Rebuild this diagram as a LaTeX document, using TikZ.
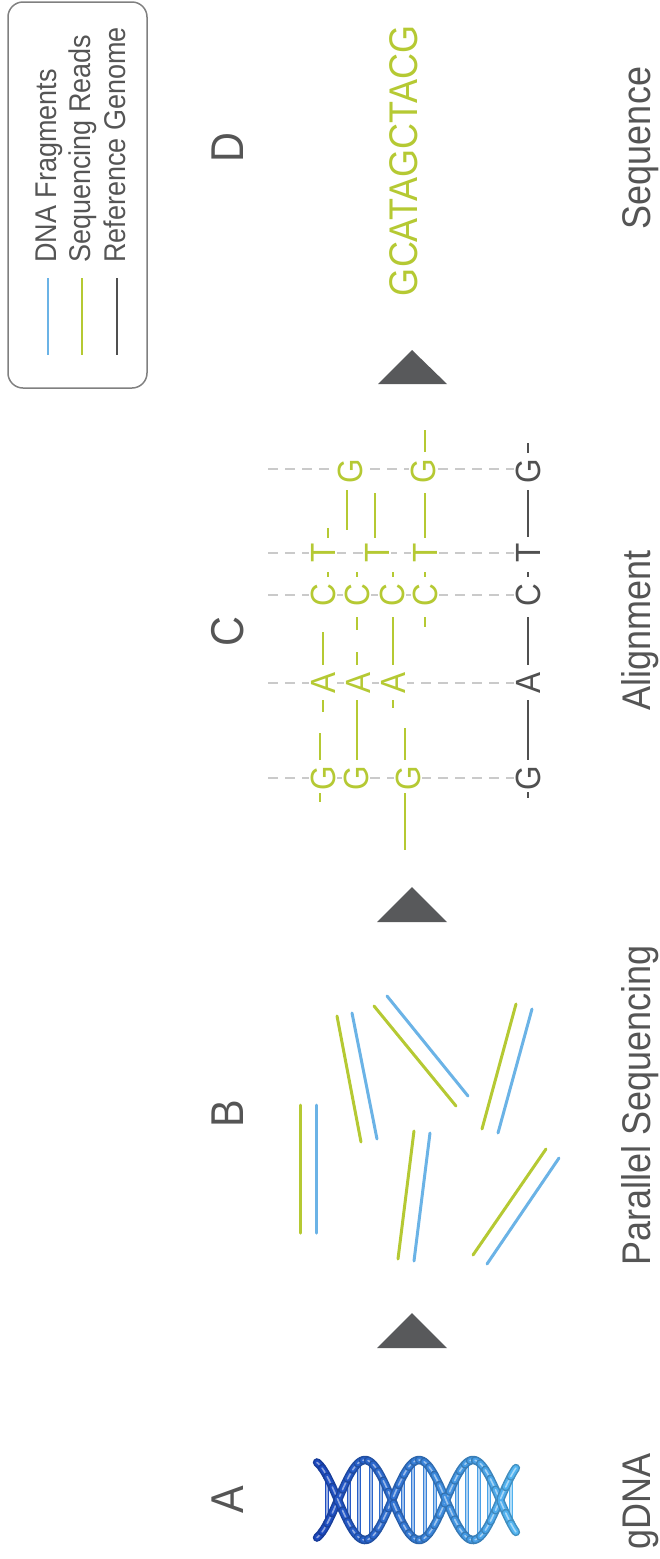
\documentclass[tikz,border=0pt]{standalone}
\usepackage{fontspec}
\setmainfont{Liberation Sans}[FakeStretch=0.9]
\definecolor{seqgreen}{HTML}{B5C933}
\definecolor{fragblue}{HTML}{6BB3E6}
\definecolor{labelgrey}{HTML}{555555}
\definecolor{refgrey}{HTML}{505050}
\definecolor{trigrey}{HTML}{58595B}
\definecolor{guidegrey}{HTML}{CACACA}
\definecolor{framegrey}{HTML}{808080}
\definecolor{dnaDark}{HTML}{1C48BE}
\definecolor{dnaLight}{HTML}{52B4F0}
\begin{document}
\begin{tikzpicture}[x=1pt,y=-1pt,
  steplabel/.style={rotate=90, text=labelgrey, font=\fontsize{46}{46}\selectfont, anchor=base, inner sep=0pt},
  caption/.style={rotate=90, text=labelgrey, font=\fontsize{40}{40}\selectfont, anchor=base, inner sep=0pt},
  legendtext/.style={rotate=90, text=labelgrey, font=\fontsize{30}{30}\selectfont, anchor=base west, inner sep=0pt},
  readletter/.style={rotate=90, text=seqgreen, font=\fontsize{35}{35}\selectfont, inner sep=1.5pt, fill=white},
  refletter/.style={readletter, text=refgrey},
  readline/.style={seqgreen, line width=2.5pt},
  refline/.style={refgrey, line width=2.5pt},
  rowguide/.style={guidegrey, line width=1.8pt, dash pattern=on 10pt off 7pt},
  fragread/.style={seqgreen, line width=3pt, line cap=round},
  fragdna/.style={fragblue, line width=3pt, line cap=round},
  flowtri/.style={fill=trigrey},
  helixedge/.style={line width=8.5pt, line cap=round},
  helixstrand/.style={line width=5.5pt, line cap=round},
  helixshine/.style={line width=1.6pt, line cap=round},
  helixrung/.style={line width=3.4pt},
  helixrungshine/.style={line width=1.1pt},
  legendframe/.style={draw=framegrey, line width=1.5pt, rounded corners=15pt},
  legendkey/.style={line width=2pt}
]
\useasboundingbox (0,0) rectangle (660,1559);

% ---------- legend ----------
\draw[legendframe] (8,2) rectangle (147,388);
\draw[legendkey, fragblue] (48,278) -- (48,355);
\draw[legendkey, seqgreen] (82,278) -- (82,355);
\draw[legendkey, refgrey] (117,278) -- (117,355);
\node[legendtext] (legDNA) at (56,263) {DNA Fragments};
\node[legendtext] (legReads) at (90,263) {Sequencing Reads};
\node[legendtext] (legRef) at (125,263) {Reference Genome};

% ---------- step letters and captions ----------
\node[steplabel] (labA) at (243,1500) {A};
\node[steplabel] (labB) at (243,1114) {B};
\node[steplabel] (labC) at (243,632) {C};
\node[steplabel] (labD) at (243,148) {D};
\node[caption] (capA) at (650,1501) {gDNA};
\node[caption] (capB) at (650,1105) {Parallel Sequencing};
\node[caption] (capC) at (650,630) {Alignment};
\node[caption] (capD) at (650,148) {Sequence};

% ---------- flow triangles ----------
\fill[flowtri] (412,1313) -- (447,1348) -- (377,1348) -- cycle;
\fill[flowtri] (412,887) -- (447,922) -- (377,922) -- cycle;
\fill[flowtri] (412,350) -- (447,384) -- (378,384) -- cycle;

% ---------- A: double helix (half turn = 54pt, first crossing at 338) ----------
\foreach \rx in {327,349,359,371,381,403,413,425,435,457,467,479,489,511}{
  \pgfmathtruncatemacro\p{(\rx-317)/1.98}
  \pgfmathsetmacro\amp{40*sin((\rx-338)*3.3333333)}
  \draw[helixrung, dnaLight!\p!dnaDark] (\rx, {1500-\amp}) -- (\rx, {1500+\amp});
  \draw[helixrungshine, dnaLight!\p!dnaDark!45!white] (\rx, {1500-\amp}) -- (\rx, {1500+\amp});
}
\foreach \i in {0,...,38}{
  \pgfmathsetmacro\xa{317+5.1*\i}
  \pgfmathsetmacro\xb{\xa+5.1}
  \pgfmathtruncatemacro\p{100*\i/38}
  \colorlet{hxc}{dnaLight!\p!dnaDark}
  \foreach \sg in {-1,1}{
    \draw[helixedge, hxc!80!black] plot[domain=\xa:\xb, samples=4] (\x, {1500+\sg*40*sin((\x-338)*3.3333333)});
  }
  \foreach \sg in {-1,1}{
    \draw[helixstrand, hxc] plot[domain=\xa:\xb, samples=4] (\x, {1500+\sg*40*sin((\x-338)*3.3333333)});
    \draw[helixshine, hxc!50!white] plot[domain=\xa:\xb, samples=4] (\x, {1500+\sg*40*sin((\x-338)*3.3333333)});
  }
}

% ---------- B: fragments with their reads ----------
\draw[fragread] (300,1105) -- (300,1233);
\draw[fragdna]  (316,1105) -- (316,1233);
\draw[fragread] (337,1016) -- (361,1142);
\draw[fragdna]  (352,1013) -- (377,1139);
\draw[fragread] (374,1006) -- (456,1106);
\draw[fragdna]  (387,996)  -- (468,1096);
\draw[fragread] (516,1004) -- (482,1129);
\draw[fragdna]  (532,1009) -- (498,1133);
\draw[fragread] (414,1131) -- (398,1259);
\draw[fragdna]  (430,1133) -- (414,1261);
\draw[fragread] (546,1149) -- (473,1255);
\draw[fragdna]  (559,1158) -- (487,1264);

% ---------- C: alignment ----------
\foreach \py in {469,553,595,683,778}
  \draw[rowguide] (268,\py) -- (514,\py);

\foreach \px/\py/\t/\n in {323/778/G/ra1, 323/683/A/ra2, 323/595/C/ra3, 323/553/T/ra4,
    350/471/G/ra5, 356/778/G/rb1, 358/683/A/rb2, 357/595/C/rb3, 377/553/T/rb4,
    393/683/A/rc1, 392/595/C/rc2, 408/778/G/rc3,
    425/595/C/rd1, 425/553/T/rd2, 423/471/G/rd3}
  \node[readletter] (\n) at (\px,\py) {\t};

\foreach \py/\t/\n in {778/G/ref1, 683/A/ref2, 595/C/ref3, 553/T/ref4, 471/G/ref5}
  \node[refletter] (\n) at (528,\py) {\t};

\foreach \px/\ya/\yb in {320/793/802, 320/733/760, 323/700/712, 323/632/665, 328/572/577, 328/528/538,
    347/490/530,
    357/700/760, 357/652/665, 357/617/630, 357/572/577,
    375/493/538,
    393/700/708, 393/617/665, 393/572/577,
    405/728/760, 405/793/850,
    425/617/627, 425/572/577, 425/493/538, 425/430/452}
  \draw[readline] (\px,\ya) -- (\px,\yb);

\foreach \ya/\yb in {792/798, 700/760, 617/665, 572/577, 490/537, 443/453}
  \draw[refline] (528,\ya) -- (528,\yb);

% ---------- D: assembled sequence ----------
\node[caption, text=seqgreen] (result) at (417,161) {GCATAGCTACG};
\end{tikzpicture}
\end{document}
